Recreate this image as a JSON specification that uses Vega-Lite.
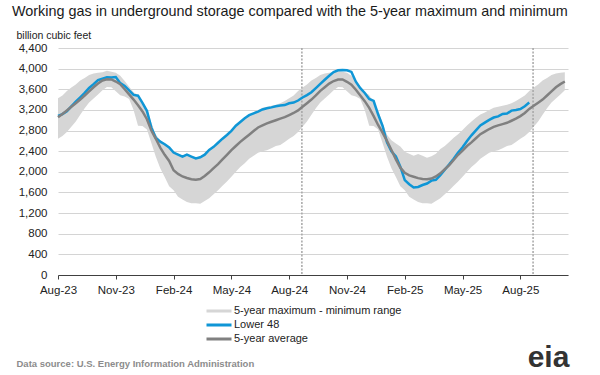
{
  "$schema": "https://vega.github.io/schema/vega-lite/v6.json",
  "width": 510,
  "height": 227,
  "autosize": {"type": "none"},
  "padding": {"left": 58, "top": 48, "right": 32, "bottom": 100},
  "background": "white",
  "title": {
    "text": "Working gas in underground  storage compared with the 5-year maximum and minimum",
    "anchor": "start",
    "frame": "group",
    "dx": -46,
    "offset": 0,
    "baseline": "alphabetic",
    "fontSize": 14.4,
    "fontWeight": "normal",
    "color": "#1a1a1a"
  },
  "datasets": {
    "storage": [
      {"date": "2023-08-25", "lo": 2640, "hi": 3424, "avg": 3057, "l48": 3085},
      {"date": "2023-09-01", "lo": 2694, "hi": 3478, "avg": 3120, "l48": 3118},
      {"date": "2023-09-08", "lo": 2771, "hi": 3567, "avg": 3190, "l48": 3175},
      {"date": "2023-09-15", "lo": 2874, "hi": 3633, "avg": 3260, "l48": 3269},
      {"date": "2023-09-22", "lo": 2977, "hi": 3694, "avg": 3330, "l48": 3359},
      {"date": "2023-09-29", "lo": 3106, "hi": 3770, "avg": 3400, "l48": 3445},
      {"date": "2023-10-06", "lo": 3231, "hi": 3817, "avg": 3480, "l48": 3529},
      {"date": "2023-10-13", "lo": 3342, "hi": 3878, "avg": 3560, "l48": 3626},
      {"date": "2023-10-20", "lo": 3420, "hi": 3907, "avg": 3640, "l48": 3700},
      {"date": "2023-10-27", "lo": 3501, "hi": 3920, "avg": 3710, "l48": 3779},
      {"date": "2023-11-03", "lo": 3580, "hi": 3929, "avg": 3770, "l48": 3805},
      {"date": "2023-11-10", "lo": 3644, "hi": 3958, "avg": 3795, "l48": 3833},
      {"date": "2023-11-17", "lo": 3640, "hi": 3940, "avg": 3790, "l48": 3826},
      {"date": "2023-11-24", "lo": 3564, "hi": 3921, "avg": 3750, "l48": 3836},
      {"date": "2023-12-01", "lo": 3483, "hi": 3860, "avg": 3700, "l48": 3719},
      {"date": "2023-12-08", "lo": 3462, "hi": 3760, "avg": 3600, "l48": 3664},
      {"date": "2023-12-15", "lo": 3412, "hi": 3650, "avg": 3500, "l48": 3577},
      {"date": "2023-12-22", "lo": 3199, "hi": 3540, "avg": 3400, "l48": 3490},
      {"date": "2023-12-29", "lo": 2891, "hi": 3490, "avg": 3290, "l48": 3476},
      {"date": "2024-01-05", "lo": 2890, "hi": 3345, "avg": 3170, "l48": 3336},
      {"date": "2024-01-12", "lo": 2820, "hi": 3195, "avg": 3020, "l48": 3182},
      {"date": "2024-01-19", "lo": 2560, "hi": 2950, "avg": 2800, "l48": 2856},
      {"date": "2024-01-26", "lo": 2290, "hi": 2720, "avg": 2640, "l48": 2659},
      {"date": "2024-02-02", "lo": 2070, "hi": 2610, "avg": 2470, "l48": 2584},
      {"date": "2024-02-09", "lo": 1900, "hi": 2550, "avg": 2330, "l48": 2535},
      {"date": "2024-02-16", "lo": 1720, "hi": 2490, "avg": 2210, "l48": 2473},
      {"date": "2024-02-23", "lo": 1643, "hi": 2390, "avg": 2030, "l48": 2374},
      {"date": "2024-03-01", "lo": 1519, "hi": 2350, "avg": 1960, "l48": 2334},
      {"date": "2024-03-08", "lo": 1462, "hi": 2310, "avg": 1910, "l48": 2293},
      {"date": "2024-03-15", "lo": 1415, "hi": 2345, "avg": 1880, "l48": 2332},
      {"date": "2024-03-22", "lo": 1389, "hi": 2310, "avg": 1855, "l48": 2296},
      {"date": "2024-03-29", "lo": 1390, "hi": 2275, "avg": 1845, "l48": 2259},
      {"date": "2024-04-05", "lo": 1382, "hi": 2300, "avg": 1860, "l48": 2283},
      {"date": "2024-04-12", "lo": 1435, "hi": 2350, "avg": 1920, "l48": 2333},
      {"date": "2024-04-19", "lo": 1490, "hi": 2440, "avg": 1990, "l48": 2425},
      {"date": "2024-04-26", "lo": 1567, "hi": 2500, "avg": 2070, "l48": 2484},
      {"date": "2024-05-03", "lo": 1643, "hi": 2580, "avg": 2150, "l48": 2563},
      {"date": "2024-05-10", "lo": 1732, "hi": 2660, "avg": 2240, "l48": 2642},
      {"date": "2024-05-17", "lo": 1812, "hi": 2730, "avg": 2330, "l48": 2714},
      {"date": "2024-05-24", "lo": 1902, "hi": 2810, "avg": 2420, "l48": 2795},
      {"date": "2024-05-31", "lo": 1999, "hi": 2900, "avg": 2500, "l48": 2893},
      {"date": "2024-06-07", "lo": 2091, "hi": 2975, "avg": 2580, "l48": 2967},
      {"date": "2024-06-14", "lo": 2165, "hi": 3050, "avg": 2650, "l48": 3038},
      {"date": "2024-06-21", "lo": 2251, "hi": 3110, "avg": 2720, "l48": 3097},
      {"date": "2024-06-28", "lo": 2311, "hi": 3150, "avg": 2790, "l48": 3134},
      {"date": "2024-07-05", "lo": 2369, "hi": 3200, "avg": 2860, "l48": 3166},
      {"date": "2024-07-12", "lo": 2401, "hi": 3240, "avg": 2900, "l48": 3209},
      {"date": "2024-07-19", "lo": 2416, "hi": 3260, "avg": 2940, "l48": 3231},
      {"date": "2024-07-26", "lo": 2457, "hi": 3280, "avg": 2970, "l48": 3249},
      {"date": "2024-08-02", "lo": 2501, "hi": 3300, "avg": 3000, "l48": 3270},
      {"date": "2024-08-09", "lo": 2519, "hi": 3330, "avg": 3030, "l48": 3284},
      {"date": "2024-08-16", "lo": 2579, "hi": 3373, "avg": 3060, "l48": 3294},
      {"date": "2024-08-23", "lo": 2640, "hi": 3424, "avg": 3100, "l48": 3329},
      {"date": "2024-08-30", "lo": 2694, "hi": 3478, "avg": 3140, "l48": 3342},
      {"date": "2024-09-06", "lo": 2771, "hi": 3567, "avg": 3190, "l48": 3382},
      {"date": "2024-09-13", "lo": 2874, "hi": 3633, "avg": 3260, "l48": 3440},
      {"date": "2024-09-20", "lo": 2977, "hi": 3694, "avg": 3330, "l48": 3487},
      {"date": "2024-09-27", "lo": 3106, "hi": 3770, "avg": 3400, "l48": 3542},
      {"date": "2024-10-04", "lo": 3231, "hi": 3817, "avg": 3480, "l48": 3624},
      {"date": "2024-10-11", "lo": 3342, "hi": 3878, "avg": 3570, "l48": 3705},
      {"date": "2024-10-18", "lo": 3420, "hi": 3907, "avg": 3640, "l48": 3785},
      {"date": "2024-10-25", "lo": 3501, "hi": 3920, "avg": 3710, "l48": 3863},
      {"date": "2024-11-01", "lo": 3580, "hi": 3929, "avg": 3760, "l48": 3932},
      {"date": "2024-11-08", "lo": 3644, "hi": 3958, "avg": 3790, "l48": 3969},
      {"date": "2024-11-15", "lo": 3640, "hi": 3940, "avg": 3790, "l48": 3972},
      {"date": "2024-11-22", "lo": 3564, "hi": 3921, "avg": 3745, "l48": 3969},
      {"date": "2024-11-29", "lo": 3483, "hi": 3860, "avg": 3690, "l48": 3937},
      {"date": "2024-12-06", "lo": 3462, "hi": 3760, "avg": 3590, "l48": 3747},
      {"date": "2024-12-13", "lo": 3412, "hi": 3650, "avg": 3480, "l48": 3622},
      {"date": "2024-12-20", "lo": 3199, "hi": 3540, "avg": 3370, "l48": 3529},
      {"date": "2024-12-27", "lo": 2891, "hi": 3490, "avg": 3240, "l48": 3413},
      {"date": "2025-01-03", "lo": 2890, "hi": 3345, "avg": 3080, "l48": 3373},
      {"date": "2025-01-10", "lo": 2820, "hi": 3195, "avg": 2908, "l48": 3115},
      {"date": "2025-01-17", "lo": 2560, "hi": 2950, "avg": 2760, "l48": 2892},
      {"date": "2025-01-24", "lo": 2290, "hi": 2720, "avg": 2600, "l48": 2571},
      {"date": "2025-01-31", "lo": 2070, "hi": 2610, "avg": 2424, "l48": 2397},
      {"date": "2025-02-07", "lo": 1900, "hi": 2550, "avg": 2240, "l48": 2297},
      {"date": "2025-02-14", "lo": 1720, "hi": 2490, "avg": 2080, "l48": 2101},
      {"date": "2025-02-21", "lo": 1643, "hi": 2390, "avg": 1980, "l48": 1840},
      {"date": "2025-02-28", "lo": 1519, "hi": 2350, "avg": 1930, "l48": 1760},
      {"date": "2025-03-07", "lo": 1462, "hi": 2310, "avg": 1905, "l48": 1698},
      {"date": "2025-03-14", "lo": 1415, "hi": 2345, "avg": 1878, "l48": 1707},
      {"date": "2025-03-21", "lo": 1389, "hi": 2310, "avg": 1862, "l48": 1744},
      {"date": "2025-03-28", "lo": 1390, "hi": 2275, "avg": 1856, "l48": 1773},
      {"date": "2025-04-04", "lo": 1382, "hi": 2300, "avg": 1870, "l48": 1830},
      {"date": "2025-04-11", "lo": 1435, "hi": 2350, "avg": 1910, "l48": 1846},
      {"date": "2025-04-18", "lo": 1490, "hi": 2440, "avg": 1970, "l48": 1934},
      {"date": "2025-04-25", "lo": 1567, "hi": 2500, "avg": 2050, "l48": 2041},
      {"date": "2025-05-02", "lo": 1643, "hi": 2580, "avg": 2130, "l48": 2145},
      {"date": "2025-05-09", "lo": 1732, "hi": 2660, "avg": 2230, "l48": 2255},
      {"date": "2025-05-16", "lo": 1812, "hi": 2730, "avg": 2330, "l48": 2375},
      {"date": "2025-05-23", "lo": 1902, "hi": 2810, "avg": 2410, "l48": 2476},
      {"date": "2025-05-30", "lo": 1999, "hi": 2900, "avg": 2500, "l48": 2598},
      {"date": "2025-06-06", "lo": 2091, "hi": 2975, "avg": 2570, "l48": 2707},
      {"date": "2025-06-13", "lo": 2165, "hi": 3050, "avg": 2650, "l48": 2802},
      {"date": "2025-06-20", "lo": 2251, "hi": 3110, "avg": 2730, "l48": 2898},
      {"date": "2025-06-27", "lo": 2311, "hi": 3150, "avg": 2780, "l48": 2953},
      {"date": "2025-07-04", "lo": 2369, "hi": 3200, "avg": 2830, "l48": 3006},
      {"date": "2025-07-11", "lo": 2401, "hi": 3240, "avg": 2870, "l48": 3052},
      {"date": "2025-07-18", "lo": 2416, "hi": 3260, "avg": 2900, "l48": 3075},
      {"date": "2025-07-25", "lo": 2457, "hi": 3280, "avg": 2925, "l48": 3123},
      {"date": "2025-08-01", "lo": 2501, "hi": 3300, "avg": 2950, "l48": 3130},
      {"date": "2025-08-08", "lo": 2519, "hi": 3330, "avg": 2990, "l48": 3186},
      {"date": "2025-08-15", "lo": 2579, "hi": 3373, "avg": 3030, "l48": 3199},
      {"date": "2025-08-22", "lo": 2640, "hi": 3424, "avg": 3080, "l48": 3217},
      {"date": "2025-08-29", "lo": 2694, "hi": 3478, "avg": 3140, "l48": 3272},
      {"date": "2025-09-05", "lo": 2771, "hi": 3567, "avg": 3220, "l48": 3343},
      {"date": "2025-09-12", "lo": 2874, "hi": 3633, "avg": 3280},
      {"date": "2025-09-19", "lo": 2977, "hi": 3694, "avg": 3340},
      {"date": "2025-09-26", "lo": 3106, "hi": 3770, "avg": 3400},
      {"date": "2025-10-03", "lo": 3231, "hi": 3817, "avg": 3480},
      {"date": "2025-10-10", "lo": 3342, "hi": 3878, "avg": 3560},
      {"date": "2025-10-17", "lo": 3420, "hi": 3907, "avg": 3640},
      {"date": "2025-10-24", "lo": 3501, "hi": 3920, "avg": 3700},
      {"date": "2025-10-31", "lo": 3580, "hi": 3929, "avg": 3750}
    ],
    "markers": [
      {"date": "2024-09-12"},
      {"date": "2025-09-11"}
    ]
  },
  "layer": [
    {
      "data": {"name": "storage"},
      "mark": {"type": "area", "opacity": 1},
      "encoding": {
        "x": {
          "field": "date",
          "type": "temporal",
          "scale": {
            "type": "utc",
            "domain": [
              {"year": 2023, "month": 8, "date": 25, "utc": true},
              {"year": 2025, "month": 11, "date": 5, "utc": true}
            ]
          },
          "axis": {
            "values": [
              {"year": 2023, "month": 8, "date": 25, "utc": true},
              {"year": 2023, "month": 11, "date": 24, "utc": true},
              {"year": 2024, "month": 2, "date": 23, "utc": true},
              {"year": 2024, "month": 5, "date": 24, "utc": true},
              {"year": 2024, "month": 8, "date": 23, "utc": true},
              {"year": 2024, "month": 11, "date": 22, "utc": true},
              {"year": 2025, "month": 2, "date": 21, "utc": true},
              {"year": 2025, "month": 5, "date": 23, "utc": true},
              {"year": 2025, "month": 8, "date": 22, "utc": true}
            ],
            "format": "%b-%y",
            "labelFlush": false,
            "labelOverlap": false,
            "labelFontSize": 11.5,
            "labelColor": "#222222",
            "labelPadding": 5,
            "tickSize": 4,
            "tickColor": "#404040",
            "domainColor": "#404040",
            "grid": false,
            "title": "Data source:  U.S. Energy Information Administration",
            "titleX": -42,
            "titleY": 88,
            "titleAlign": "left",
            "titleAnchor": "start",
            "titleBaseline": "middle",
            "titleFontSize": 9.5,
            "titleFontWeight": "bold",
            "titleColor": "#8c8c8c"
          }
        },
        "y": {
          "field": "lo",
          "type": "quantitative",
          "scale": {"domain": [0, 4400], "nice": false},
          "axis": {
            "values": [0, 400, 800, 1200, 1600, 2000, 2400, 2800, 3200, 3600, 4000, 4400],
            "format": ",.0f",
            "grid": true,
            "gridColor": "#d4d4d4",
            "domain": false,
            "ticks": false,
            "labelPadding": 11,
            "labelFontSize": 11.5,
            "labelColor": "#222222",
            "title": "billion cubic feet",
            "titleAngle": 0,
            "titleX": -42,
            "titleY": -10,
            "titleAlign": "left",
            "titleBaseline": "alphabetic",
            "titleFontSize": 10.5,
            "titleFontWeight": "normal",
            "titleColor": "#222222"
          }
        },
        "y2": {"field": "hi"},
        "color": {
          "datum": "5-year maximum - minimum range",
          "scale": {
            "domain": ["5-year maximum - minimum range", "Lower 48", "5-year average"],
            "range": ["#d6d6d6", "#0f96d6", "#808080"]
          },
          "legend": {
            "orient": "none",
            "legendX": 147,
            "legendY": 256,
            "title": null,
            "labelFontSize": 11,
            "labelColor": "#222222",
            "labelOffset": 1,
            "labelLimit": 300,
            "symbolType": "stroke",
            "symbolSize": 625,
            "symbolStrokeWidth": 3,
            "clipHeight": 14,
            "rowPadding": 0,
            "encode": {
              "symbols": {
                "update": {
                  "shape": {"value": "stroke"},
                  "stroke": {"scale": "color", "field": "value"},
                  "strokeWidth": {"signal": "datum.value === '5-year maximum - minimum range' ? 6 : 3"},
                  "fill": {"value": "transparent"},
                  "opacity": {"value": 1}
                }
              }
            }
          }
        }
      }
    },
    {
      "data": {"name": "markers"},
      "mark": {"type": "rule", "color": "#a6a6a6", "strokeWidth": 1.5, "strokeDash": [2, 1.5]},
      "encoding": {
        "x": {"field": "date", "type": "temporal"}
      }
    },
    {
      "data": {"name": "storage"},
      "mark": {"type": "line", "strokeWidth": 2.5},
      "encoding": {
        "x": {"field": "date", "type": "temporal"},
        "y": {"field": "l48", "type": "quantitative", "scale": {"domain": [0, 4400], "nice": false}, "axis": null},
        "color": {"datum": "Lower 48"}
      }
    },
    {
      "data": {"name": "storage"},
      "mark": {"type": "line", "strokeWidth": 2.5},
      "encoding": {
        "x": {"field": "date", "type": "temporal"},
        "y": {
          "field": "avg",
          "type": "quantitative",
          "scale": {"domain": [0, 4400], "nice": false},
          "axis": {
            "orient": "right",
            "labels": false,
            "ticks": false,
            "domain": false,
            "grid": false,
            "title": "eia",
            "titleAngle": 0,
            "titleX": -20,
            "titleY": 318,
            "titleAlign": "center",
            "titleBaseline": "alphabetic",
            "titleFontSize": 30,
            "titleFontWeight": "bold",
            "titleColor": "#333333"
          }
        },
        "color": {"datum": "5-year average"}
      }
    }
  ],
  "resolve": {"axis": {"y": "independent"}},
  "config": {
    "font": "Liberation Sans",
    "view": {"stroke": null},
    "axis": {"labelFont": "Liberation Sans", "titleFont": "Liberation Sans"},
    "legend": {"labelFont": "Liberation Sans"},
    "title": {"font": "Liberation Sans"}
  }
}
